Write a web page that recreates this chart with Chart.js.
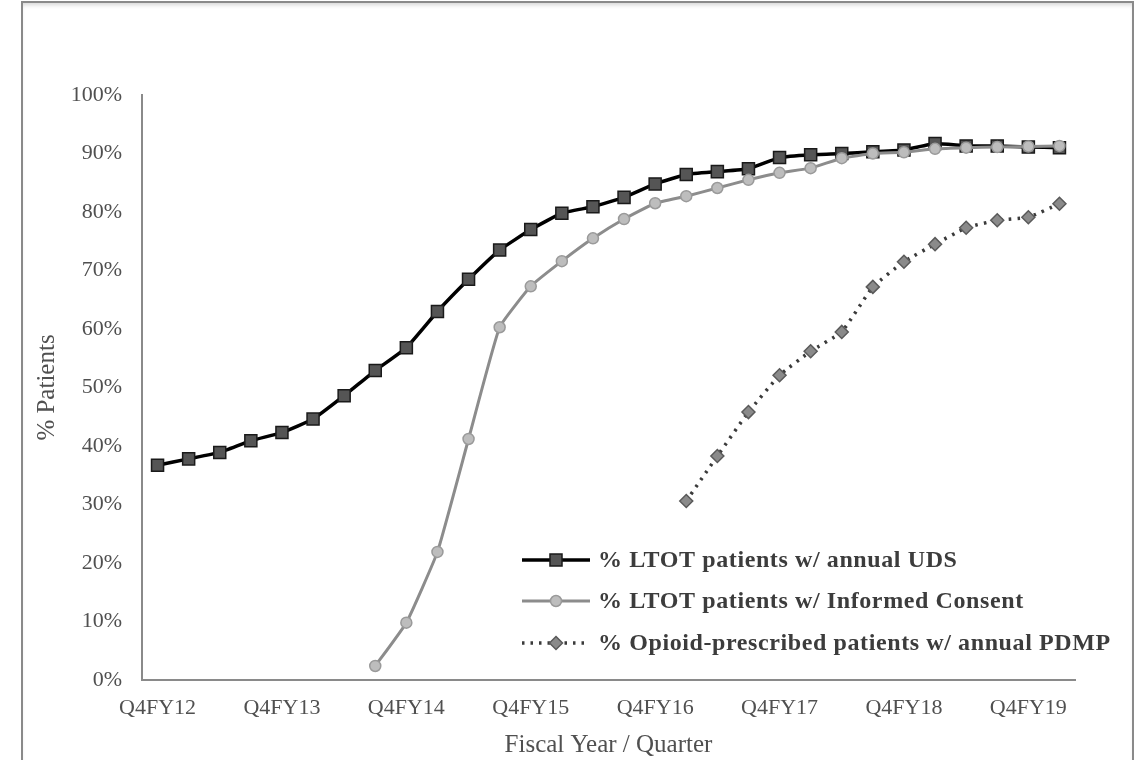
<!DOCTYPE html>
<html>
<head>
<meta charset="utf-8">
<script src="https://cdn.jsdelivr.net/npm/chart.js"></script>
<style>
html,body{margin:0;padding:0;background:#fff;width:1140px;height:760px;overflow:hidden;}
#frame{position:absolute;left:21px;top:1px;width:1109px;height:800px;border:2px solid #8a8a8a;box-shadow:inset 0 4px 4px -2px #d6d6d6;}
#wrap{position:absolute;left:0;top:0;width:1140px;height:760px;}
</style>
</head>
<body>
<div id="frame"></div>
<div id="wrap"><canvas id="c" width="1140" height="760"></canvas></div>
<script>
// ---- data ----
const quarters = [
  'Q4FY12','Q1FY13','Q2FY13','Q3FY13','Q4FY13','Q1FY14','Q2FY14','Q3FY14',
  'Q4FY14','Q1FY15','Q2FY15','Q3FY15','Q4FY15','Q1FY16','Q2FY16','Q3FY16',
  'Q4FY16','Q1FY17','Q2FY17','Q3FY17','Q4FY17','Q1FY18','Q2FY18','Q3FY18',
  'Q4FY18','Q1FY19','Q2FY19','Q3FY19','Q4FY19','Q1FY20'
];
const shownTickLabels = ['Q4FY12','Q4FY13','Q4FY14','Q4FY15','Q4FY16','Q4FY17','Q4FY18','Q4FY19'];
const seriesNames = [
  '% LTOT patients w/ annual UDS',
  '% LTOT patients w/ Informed Consent',
  '% Opioid-prescribed patients w/ annual PDMP'
];
const udsValues = [36.7, 37.8, 38.9, 40.9, 42.3, 44.6, 48.6, 52.9, 56.8, 63.0,
  68.5, 73.5, 77.0, 79.8, 80.9, 82.5, 84.8, 86.4, 86.9, 87.4,
  89.3, 89.8, 90.0, 90.3, 90.6, 91.7, 91.3, 91.3, 91.1, 91.0];
const consentValues = [null, null, null, null, null, null, null, 2.4, 9.8, 21.9,
  41.2, 60.3, 67.3, 71.6, 75.5, 78.8, 81.5, 82.7, 84.1, 85.5,
  86.7, 87.5, 89.2, 90.0, 90.2, 90.8, 91.0, 91.1, 91.2, 91.3];
const pdmpValues = [null, null, null, null, null, null, null, null, null, null,
  null, null, null, null, null, null, null, 30.6, 38.3, 45.8,
  52.1, 56.2, 59.5, 67.2, 71.5, 74.5, 77.3, 78.6, 79.1, 81.4];
const yMin = 0, yMax = 100, yStep = 10;

// ---- styles ----
const FONT = '"Liberation Serif", "Times New Roman", serif';
const TXT = '#505050';

function drawMarker(ctx, style, x, y, r, fill, stroke, lw) {
  ctx.save();
  ctx.setLineDash([]);
  ctx.beginPath();
  if (style === 'rect') {
    const s = Math.SQRT1_2 * r;
    ctx.rect(x - s, y - s, 2 * s, 2 * s);
  } else if (style === 'rectRot') {
    ctx.moveTo(x, y - r); ctx.lineTo(x + r, y); ctx.lineTo(x, y + r); ctx.lineTo(x - r, y); ctx.closePath();
  } else {
    ctx.arc(x, y, r, 0, Math.PI * 2);
  }
  ctx.fillStyle = fill; ctx.fill();
  ctx.lineWidth = lw; ctx.strokeStyle = stroke; ctx.stroke();
  ctx.restore();
}

const insideLegend = {
  id: 'insideLegend',
  afterDraw(chart) {
    const ctx = chart.ctx, ca = chart.chartArea;
    const x0 = ca.right - 553;
    const rows = [ca.bottom - 120, ca.bottom - 79, ca.bottom - 37];
    const byName = chart.data.datasets.slice().sort((a, b) => a.legendIndex - b.legendIndex);
    byName.forEach((ds, i) => {
      const y = rows[i];
      ctx.save();
      ctx.strokeStyle = ds.borderColor;
      ctx.lineWidth = ds.borderWidth;
      ctx.lineCap = ds.borderCapStyle || 'butt';
      ctx.setLineDash(ds.borderDash || []);
      ctx.beginPath(); ctx.moveTo(x0, y); ctx.lineTo(x0 + 68, y); ctx.stroke();
      ctx.restore();
      drawMarker(ctx, ds.pointStyle, x0 + 34, y, ds.pointRadius, ds.pointBackgroundColor, ds.pointBorderColor, ds.pointBorderWidth);
      ctx.save();
      ctx.font = 'bold 24px ' + FONT;
      try { ctx.letterSpacing = '0.6px'; } catch (e) {}
      ctx.fillStyle = '#3c3c3c';
      ctx.textBaseline = 'middle';
      ctx.textAlign = 'left';
      ctx.fillText(ds.label, x0 + 76, y + 1);
      ctx.restore();
    });
  }
};

new Chart(document.getElementById('c'), {
  type: 'line',
  data: {
    labels: quarters,
    datasets: [
      {
        label: seriesNames[1], legendIndex: 1, data: consentValues, order: 0,
        borderColor: '#8c8c8c', borderWidth: 3, tension: 0.12,
        pointStyle: 'circle', pointRadius: 5.5, pointBackgroundColor: '#bdbdbd',
        pointBorderColor: '#9a9a9a', pointBorderWidth: 1.5
      },
      {
        label: seriesNames[0], legendIndex: 0, data: udsValues, order: 1,
        borderColor: '#000000', borderWidth: 3.5, tension: 0.12,
        pointStyle: 'rect', pointRadius: 8.5, pointBackgroundColor: '#555555',
        pointBorderColor: '#1a1a1a', pointBorderWidth: 1.5
      },
      {
        label: seriesNames[2], legendIndex: 2, data: pdmpValues, order: 2,
        borderColor: '#3a3a3a', borderWidth: 3.5, borderDash: [2.5, 6], borderCapStyle: 'butt', tension: 0.12,
        pointStyle: 'rectRot', pointRadius: 6.5, pointBackgroundColor: '#8a8a8a',
        pointBorderColor: '#5a5a5a', pointBorderWidth: 1.5
      }
    ]
  },
  options: {
    responsive: false,
    devicePixelRatio: 1,
    animation: false,
    layout: { padding: { left: 22, top: 95, right: 65, bottom: 0 } },
    plugins: { legend: { display: false }, tooltip: { enabled: false } },
    scales: {
      x: {
        type: 'category',
        offset: true,
        grid: { display: false },
        border: { display: true, color: '#8a8a8a', width: 2 },
        ticks: {
          autoSkip: false, maxRotation: 0, minRotation: 0, padding: 7,
          color: TXT, font: { family: FONT, size: 22 },
          callback: (v, i) => shownTickLabels.includes(quarters[i]) ? quarters[i] : ''
        },
        title: {
          display: true, text: 'Fiscal Year / Quarter', color: TXT,
          font: { family: FONT, size: 25 }, padding: { top: 0, bottom: 0 }
        },
        afterFit: (s) => { s.height = 80; }
      },
      y: {
        min: yMin, max: yMax,
        grid: { display: false },
        border: { display: true, color: '#8a8a8a', width: 2 },
        ticks: {
          stepSize: yStep, padding: 12, color: TXT,
          font: { family: FONT, size: 22 },
          callback: (v) => v + '%'
        },
        title: {
          display: true, text: '% Patients', color: TXT,
          font: { family: FONT, size: 25 }, padding: { top: 10, bottom: 0 }
        },
        afterFit: (s) => { s.width = 120; }
      }
    }
  },
  plugins: [insideLegend]
});
</script>
</body>
</html>
